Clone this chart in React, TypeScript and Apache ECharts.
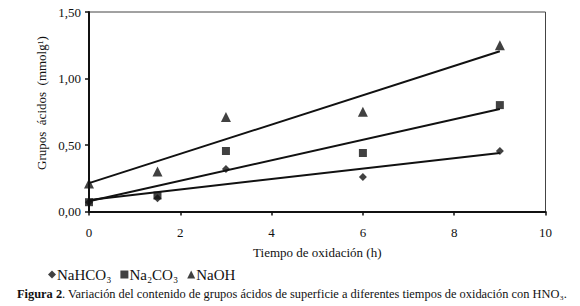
import React, { useEffect, useRef } from "react";
import * as echarts from "echarts";

const times = [0, 1.5, 3, 6, 9];
const nahco3 = [0.07, 0.1, 0.32, 0.26, 0.455];
const na2co3 = [0.07, 0.12, 0.455, 0.44, 0.8];
const naoh = [0.21, 0.3, 0.71, 0.75, 1.25];
// trend line end values at x = 0 and x = 9
const trendX = [0, 9];
const trendNahco3 = [0.087, 0.44];
const trendNa2co3 = [0.077, 0.77];
const trendNaoh = [0.213, 1.205];
const seriesNames = ["NaHCO₃", "Na₂CO₃", "NaOH"];
const symbols = ["diamond", "rect", "triangle"];

const FONT = "'Liberation Serif', 'Times New Roman', serif";

export default function App() {
  const ref = useRef<HTMLDivElement>(null);
  useEffect(() => {
    if (!ref.current) return;
    const chart = echarts.init(ref.current, undefined, { renderer: "svg" });
    const pts = (ys: number[]) => times.map((t, i) => [t, ys[i]]);
    const trend = (ys: number[]) => trendX.map((t, i) => [t, ys[i]]);
    const values = [nahco3, na2co3, naoh];
    const trends = [trendNahco3, trendNa2co3, trendNaoh];
    const sizes = [8, 8, 10];
    chart.setOption({
      animation: false,
      textStyle: { fontFamily: FONT },
      grid: {
        left: 89,
        right: 34.5,
        top: 12,
        bottom: 94.5,
        show: true,
        borderColor: "#444",
        borderWidth: 1,
      },
      legend: {
        data: seriesNames.map((n, i) => ({ name: n, icon: symbols[i] })),
        left: 43,
        top: 262,
        itemWidth: 8,
        itemHeight: 8,
        itemGap: 9,
        textStyle: { fontFamily: FONT, fontSize: 15, color: "#111", padding: [0, 0, 0, -4] },
        selectedMode: false,
      },
      title: {
        text: "{b|Figura 2}. Variación del contenido de grupos ácidos de superficie a diferentes tiempos de oxidación con HNO₃.",
        left: 12,
        top: 283,
        textStyle: {
          fontFamily: FONT,
          fontSize: 12.4,
          fontWeight: "normal",
          color: "#111",
          rich: {
            b: { fontFamily: FONT, fontSize: 12.4, fontWeight: "bold", color: "#111" },
          },
        },
      },
      graphic: [
        {
          type: "text",
          x: 41,
          y: 103,
          rotation: Math.PI / 2,
          style: {
            text: "Grupos  ácidos  (mmolg¹)",
            fontFamily: FONT,
            fontSize: 13,
            fill: "#111",
            align: "center",
            verticalAlign: "middle",
          },
        },
      ],
      xAxis: {
        type: "value",
        min: 0,
        max: 10,
        interval: 2,
        name: "Tiempo de oxidación (h)",
        nameLocation: "middle",
        nameGap: 34,
        nameTextStyle: { fontFamily: FONT, fontSize: 13, color: "#111" },
        axisLine: { lineStyle: { color: "#111", width: 2 } },
        axisTick: { show: true, length: 4, lineStyle: { color: "#111", width: 1.5 } },
        axisLabel: { fontFamily: FONT, fontSize: 13, color: "#111", margin: 14 },
        splitLine: { show: false },
      },
      yAxis: {
        type: "value",
        min: 0,
        max: 1.5,
        interval: 0.5,
        axisLine: { lineStyle: { color: "#111", width: 2 } },
        axisTick: { show: true, length: 4, lineStyle: { color: "#111", width: 1.5 } },
        axisLabel: {
          fontFamily: FONT,
          fontSize: 13,
          color: "#111",
          margin: 8,
          formatter: (v: number) => v.toFixed(2).replace(".", ","),
        },
        splitLine: { show: false },
      },
      series: [
        ...trends.map((t) => ({
          type: "line",
          data: trend(t),
          symbol: "none",
          lineStyle: { color: "#111", width: 2 },
          silent: true,
          z: 2,
        })),
        ...values.map((v, i) => ({
          type: "scatter",
          name: seriesNames[i],
          data: pts(v),
          symbol: symbols[i],
          symbolSize: sizes[i],
          itemStyle: { color: "#111" },
          z: 3,
        })),
      ],
    });
    return () => chart.dispose();
  }, []);
  return <div ref={ref} style={{ width: 580, height: 306, position: "absolute", left: 0, top: 0 }} />;
}
